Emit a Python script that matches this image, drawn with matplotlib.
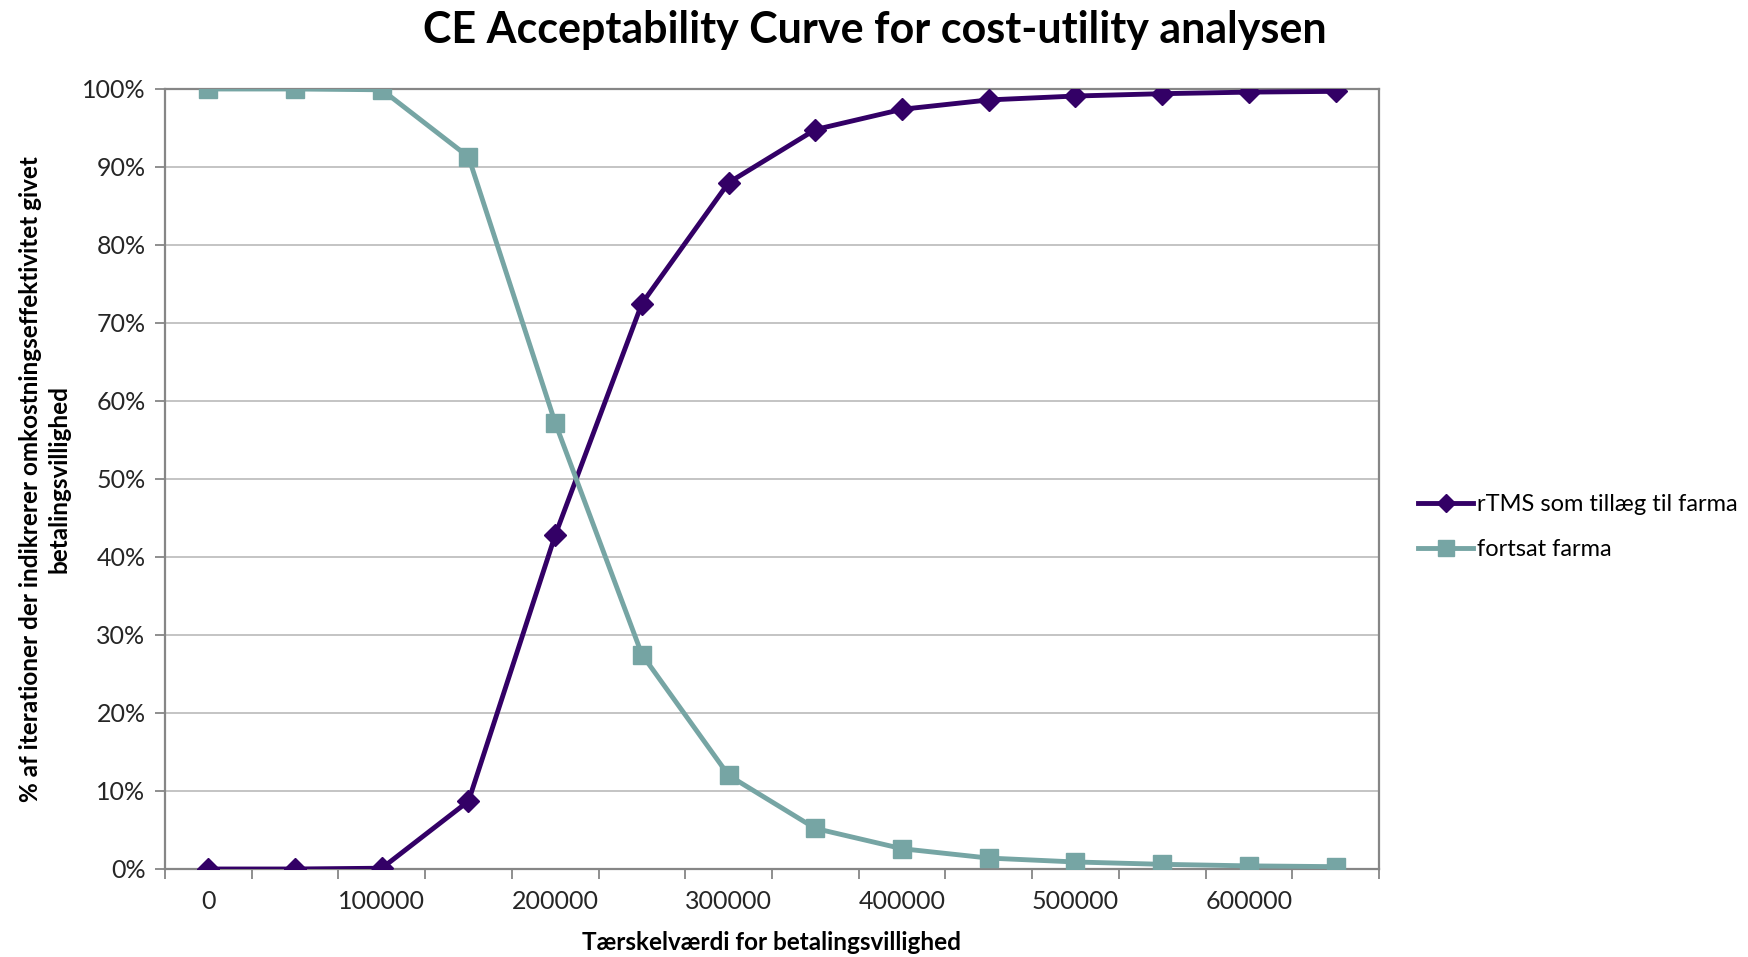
import matplotlib
matplotlib.use("Agg")
import matplotlib.pyplot as plt
from matplotlib.ticker import FixedLocator, FuncFormatter

plt.rcParams['font.family'] = ['Lato', 'DejaVu Sans']

thresholds = [0, 50000, 100000, 150000, 200000, 250000, 300000, 350000,
              400000, 450000, 500000, 550000, 600000, 650000]
rtms = [0.0, 0.0, 0.1, 8.7, 42.8, 72.5, 88.0, 94.8, 97.4, 98.6, 99.1, 99.4, 99.6, 99.7]
farma = [100.0, 100.0, 99.9, 91.3, 57.2, 27.5, 12.0, 5.2, 2.6, 1.4, 0.9, 0.6, 0.4, 0.3]
series_names = ["rTMS som tillæg til farma", "fortsat farma"]
title = "CE Acceptability Curve for cost-utility analysen"
xlabel = "Tærskelværdi for betalingsvillighed"
ylabel = "% af iterationer der indikrerer omkostningseffektivitet givet\nbetalingsvillighed"

fig = plt.figure(figsize=(17.49, 9.57), dpi=100)
ax = fig.add_axes([165/1749, 1-869/957, (1379-165)/1749, (869-89)/957])

pos = list(range(len(thresholds)))
ax.plot(pos, rtms, color='#330066', lw=3.5, marker='D', markersize=11,
        label=series_names[0], zorder=3)
ax.plot(pos, farma, color='#76A5A4', lw=3.5, marker='s', markersize=13.5,
        label=series_names[1], zorder=3)

ax.set_xlim(-0.5, len(thresholds) - 0.5)
ax.set_ylim(0, 100)

# y axis
ax.yaxis.set_major_locator(FixedLocator(list(range(0, 101, 10))))
ax.yaxis.set_major_formatter(FuncFormatter(lambda v, p: f"{int(round(v))}%"))
ax.grid(axis='y', color='#BFBFBF', lw=1.3)
ax.set_axisbelow(True)

# x axis: labels every other category, ticks at category boundaries
ax.set_xticks(pos[::2])
ax.set_xticklabels([str(t) for t in thresholds[::2]])
ax.tick_params(axis='x', which='major', length=0, pad=15)
ax.set_xticks([p - 0.5 for p in range(len(thresholds) + 1)], minor=True)
ax.tick_params(axis='x', which='minor', length=7, width=1.3, color='#868686', direction='out')
ax.tick_params(axis='y', length=7, width=1.3, color='#868686', direction='out', pad=7)
ax.tick_params(labelsize=18, labelcolor='#262626')

for s in ax.spines.values():
    s.set_color('#868686')
    s.set_linewidth(1.6)

ax.set_xlabel(xlabel, fontsize=17.5, fontweight='bold', labelpad=13)
ax.set_ylabel(ylabel, fontsize=17.5, fontweight='bold', labelpad=8, linespacing=1.3)
fig.text(0.5, 1-30/957, title, ha='center', va='center', fontsize=31, fontweight='bold')

leg = ax.legend(loc='center left', bbox_to_anchor=(1418/1749, 1-527/957),
                bbox_transform=fig.transFigure, frameon=False,
                fontsize=17, handlelength=2.35, handletextpad=0.15, labelspacing=1.0,
                markerscale=0.85, borderaxespad=0, borderpad=0)

fig.savefig("out.png", dpi=100, facecolor='white')
